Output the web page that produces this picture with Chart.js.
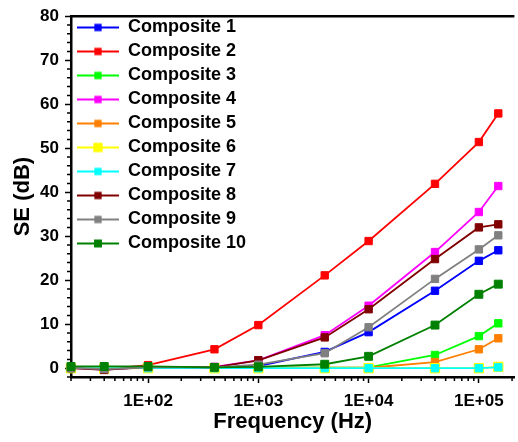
<!DOCTYPE html>
<html>
<head>
<meta charset="utf-8">
<script src="https://cdn.jsdelivr.net/npm/chart.js@4"></script>
<style>
  html, body { margin: 0; padding: 0; background: #fff; overflow: hidden; }
  #wrap { width: 522px; height: 442px; }
</style>
</head>
<body>
<div id="wrap"><canvas id="seChart"></canvas></div>
<script>
// Frequency points (Hz)
const frequencies = [20, 40, 100, 400, 1000, 4000, 10000, 40000, 100000, 150000];

// SE values (dB)
const composite1 = [0.1, -0.3, 0.2, 0.1, 0.5, 3.7, 8.2, 17.6, 24.4, 26.8];
const composite2 = [0.2, -0.2, 0.7, 4.3, 9.8, 21.1, 28.9, 41.9, 51.4, 57.9];
const composite3 = [0.1, 0.1, 0.2, 0.1, 0.1, 0.1, 0.2, 3.0, 7.3, 10.2];
const composite4 = [0.0, -0.2, 0.2, 0.3, 1.8, 7.5, 14.2, 26.4, 35.5, 41.4];
const composite5 = [0.1, 0.0, 0.1, 0.1, 0.1, 0.1, 0.1, 1.4, 4.3, 6.8];
const composite6 = [0.0, -0.1, 0.0, 0.0, 0.0, 0.0, 0.0, 0.0, 0.0, 0.3];
const composite7 = [0.0, 0.0, 0.0, 0.0, 0.0, 0.0, 0.0, 0.0, 0.0, 0.2];
const composite8 = [0.0, -0.4, 0.3, 0.2, 1.8, 7.0, 13.4, 24.8, 32.0, 32.7];
const composite9 = [0.1, -0.2, 0.2, 0.2, 0.8, 3.4, 9.3, 20.3, 27.0, 30.2];
const composite10 = [0.4, 0.4, 0.4, 0.2, 0.3, 0.9, 2.7, 9.8, 16.8, 19.1];

const seriesNames = ['Composite 1', 'Composite 2', 'Composite 3', 'Composite 4', 'Composite 5',
                     'Composite 6', 'Composite 7', 'Composite 8', 'Composite 9', 'Composite 10'];
const seriesValues = [composite1, composite2, composite3, composite4, composite5,
                      composite6, composite7, composite8, composite9, composite10];
const seriesColors = ['#0000ff', '#ff0000', '#00ff00', '#ff00ff', '#ff8000',
                      '#ffff00', '#00ffff', '#800000', '#808080', '#008000'];

// tick labels
const xMajorTicks = [100, 1000, 10000, 100000];
const yMajorTicks = [0, 10, 20, 30, 40, 50, 60, 70, 80];

const FONT = 'Liberation Sans, Arial, sans-serif';

function markerRadius(i) {
    if (i === 5) return 6.6;
    if (i === 9) return 5.6;
    return 5.2;
}

// legend icon: short line with a square marker in the middle
function legendIcon(color, i) {
    const c = document.createElement('canvas');
    c.width = 42;
    c.height = 12;
    const g = c.getContext('2d');
    g.strokeStyle = color;
    g.lineWidth = 2;
    g.beginPath();
    g.moveTo(0, 6);
    g.lineTo(42, 6);
    g.stroke();
    const s = markerRadius(i) * Math.SQRT2;
    g.fillStyle = color;
    g.fillRect(21 - s / 2, 6 - s / 2, s, s);
    return c;
}

// top frame line + minor ticks
const framePlugin = {
    id: 'frame',
    afterDraw(chart) {
        const { ctx, chartArea: a, scales } = chart;
        ctx.save();
        ctx.strokeStyle = '#000';
        ctx.lineWidth = 2.5;
        ctx.beginPath();
        ctx.moveTo(a.left - 1, a.top);
        ctx.lineTo(a.right, a.top);
        ctx.stroke();

        ctx.lineWidth = 1.5;
        ctx.beginPath();
        for (let d = 10; d <= 100000; d *= 10) {
            for (let m = 2; m <= 9; m++) {
                const v = d * m;
                if (v < scales.x.min || v > scales.x.max) continue;
                const px = scales.x.getPixelForValue(v);
                ctx.moveTo(px, a.bottom);
                ctx.lineTo(px, a.bottom + 4);
            }
        }
        for (let v = -2; v <= 80; v += 2) {
            if (v % 10 === 0) continue;
            const py = scales.y.getPixelForValue(v);
            ctx.moveTo(a.left, py);
            ctx.lineTo(a.left - 4, py);
        }
        ctx.stroke();
        ctx.restore();
    }
};

const ctx = document.getElementById('seChart').getContext('2d');
new Chart(ctx, {
    type: 'line',
    data: {
        labels: frequencies,
        datasets: seriesNames.map((name, i) => ({
            label: name,
            data: frequencies.map((f, k) => ({ x: f, y: seriesValues[i][k] })),
            borderColor: seriesColors[i],
            backgroundColor: seriesColors[i],
            borderWidth: 1.8,
            pointStyle: 'rect',
            pointRadius: markerRadius(i),
            pointBorderWidth: 1,
            pointBorderColor: seriesColors[i],
            pointBackgroundColor: seriesColors[i],
            tension: 0,
            fill: false,
            clip: false,
            order: 10 - i
        }))
    },
    options: {
        responsive: true,
        maintainAspectRatio: false,
        animation: false,
        layout: { padding: { top: 14, right: 0, left: 0, bottom: 0 } },
        plugins: {
            tooltip: { enabled: false },
            legend: {
                position: 'chartArea',
                align: 'start',
                title: {
                    display: true,
                    text: '',
                    color: '#000',
                    padding: 0,
                    font: { family: FONT, size: 10, lineHeight: 1.25 }
                },
                labels: {
                    usePointStyle: true,
                    pointStyleWidth: 42,
                    padding: 6,
                    color: '#000',
                    font: { family: FONT, size: 18, weight: 'bold' },
                    generateLabels(chart) {
                        return chart.data.datasets.map((ds, i) => ({
                            text: ds.label,
                            fontColor: '#000',
                            pointStyle: legendIcon(seriesColors[i], i),
                            fillStyle: seriesColors[i],
                            strokeStyle: seriesColors[i],
                            lineWidth: 0,
                            hidden: false,
                            datasetIndex: i
                        }));
                    }
                }
            }
        },
        scales: {
            x: {
                type: 'logarithmic',
                min: 20,
                max: 210000,
                afterBuildTicks(scale) {
                    scale.ticks = xMajorTicks.map(v => ({ value: v }));
                },
                afterFit(scale) { scale.height = 65; },
                ticks: {
                    color: '#000',
                    padding: 8,
                    maxRotation: 0,
                    autoSkip: false,
                    font: { family: FONT, size: 17, weight: 'bold' },
                    callback: (v) => '1E+0' + Math.round(Math.log10(v))
                },
                grid: { drawOnChartArea: false, tickLength: 6, tickColor: '#000', tickWidth: 1.5 },
                border: { color: '#000', width: 2.5 },
                title: {
                    display: true,
                    text: 'Frequency (Hz)',
                    color: '#000',
                    padding: { top: 0, bottom: 7 },
                    font: { family: FONT, size: 22, weight: 'bold' }
                }
            },
            y: {
                min: -2,
                max: 80,
                afterBuildTicks(scale) {
                    scale.ticks = yMajorTicks.map(v => ({ value: v }));
                },
                afterFit(scale) { scale.width = 71; },
                ticks: {
                    color: '#000',
                    padding: 6,
                    font: { family: FONT, size: 17, weight: 'bold' }
                },
                grid: { drawOnChartArea: false, tickLength: 6, tickColor: '#000', tickWidth: 1.5 },
                border: { color: '#000', width: 2.5 },
                title: {
                    display: true,
                    text: 'SE (dB)',
                    color: '#000',
                    padding: { top: 10, bottom: 0 },
                    font: { family: FONT, size: 22, weight: 'bold' }
                }
            }
        }
    },
    plugins: [framePlugin]
});
</script>
</body>
</html>
